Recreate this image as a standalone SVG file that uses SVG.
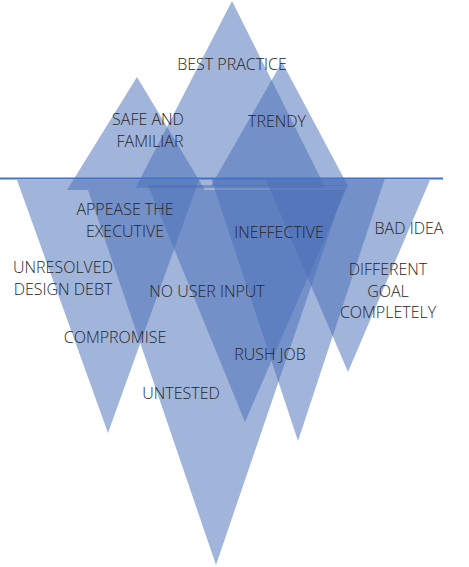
<svg xmlns="http://www.w3.org/2000/svg" width="469" height="567" viewBox="0 0 469 567">
<style>
.tri{fill:#4A70B8;fill-opacity:0.52;stroke:none}
.lbl{font-family:"Open Sans","Liberation Sans",sans-serif;font-weight:300;font-size:16px;fill:#262626;text-anchor:middle}
</style>
<rect width="469" height="567" fill="#fff"/>
<g id="above">
<polygon id="best-practice" class="tri" points="232,1 135.5,188 325.5,188"/>
<polygon id="safe-and-familiar" class="tri" points="137,77 67,190 205,190"/>
<polygon id="trendy" class="tri" points="282,62 211,186 348,186"/>
</g>
<g id="below">
<polygon id="unresolved" class="tri" points="17,180 199,180 108,433"/>
<polygon id="untested" class="tri" points="88,190 344,190 216,565"/>
<polygon id="bad-idea" class="tri" points="266,180 430,180 348,372"/>
<polygon id="rush-job" class="tri" points="211,178 385,178 298,441"/>
<polygon id="ineffective" class="tri" points="148,185 348,185 245,422"/>
</g>
<g id="waterline">
<line x1="0" y1="178.5" x2="443" y2="178.5" stroke="#4472C4" stroke-width="2"/>
</g>
<g id="labels">
<text class="lbl" x="232" y="70">BEST PRACTICE</text>
<text class="lbl" x="148" y="125">SAFE AND</text>
<text class="lbl" x="150" y="147">FAMILIAR</text>
<text class="lbl" x="277" y="127">TRENDY</text>
<text class="lbl" x="125" y="215">APPEASE THE</text>
<text class="lbl" x="125" y="237">EXECUTIVE</text>
<text class="lbl" x="279" y="238">INEFFECTIVE</text>
<text class="lbl" x="409" y="234">BAD IDEA</text>
<text class="lbl" x="63" y="273">UNRESOLVED</text>
<text class="lbl" x="63" y="295">DESIGN DEBT</text>
<text class="lbl" x="207" y="297">NO USER INPUT</text>
<text class="lbl" x="388" y="275">DIFFERENT</text>
<text class="lbl" x="388" y="297">GOAL</text>
<text class="lbl" x="388" y="318">COMPLETELY</text>
<text class="lbl" x="115" y="343">COMPROMISE</text>
<text class="lbl" x="270" y="360">RUSH JOB</text>
<text class="lbl" x="181" y="399">UNTESTED</text>
</g>
</svg>
